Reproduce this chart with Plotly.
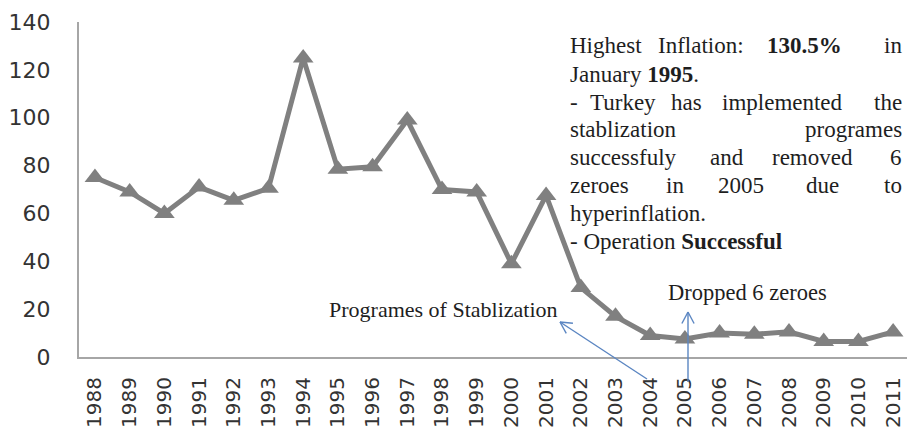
import math
import plotly.graph_objects as go

# ---- data ----
years = [str(y) for y in range(1988, 2012)]
inflation = [75, 69, 60, 71, 65.5, 70.5, 125, 78.5, 79.5, 99, 70, 69,
             39, 67.5, 29, 17, 9, 7.5, 10, 9.5, 10.5, 6.5, 6.5, 10.5]
y_ticks = [0, 20, 40, 60, 80, 100, 120, 140]

# ---- layout geometry (pixels) ----
W, H = 907, 432
L, R, T, B = 79, 0, 22, 75
PW, PH = W - L - R, H - T - B


def px(x):
    return (x - L) / PW


def py(y):
    return (H - B - y) / PH


GRAY = "#808080"
AX = "#a6a6a6"
BLUE = "#5b86c2"
SERIF = "Liberation Serif, Times New Roman, serif"
TXT = "#1e1e1e"
FS = 23

fig = go.Figure()
fig.add_trace(go.Scatter(
    x=years, y=inflation, mode="lines+markers",
    line=dict(color=GRAY, width=5),
    marker=dict(symbol="triangle-up", size=18, color=GRAY),
    cliponaxis=False, showlegend=False, hoverinfo="x+y",
))

annotations = []


def word(text, x, y, anchor="left", size=FS):
    annotations.append(dict(
        text=text, xref="paper", yref="paper", x=px(x), y=py(y),
        xanchor=anchor, yanchor="middle", showarrow=False,
        font=dict(family=SERIF, size=size, color=TXT)))


LX, RX = 568, 904
lines_y = [46, 74, 102, 129, 157, 185, 213, 241]
# line 1 (justified)
word("Highest", LX, lines_y[0])
word("Inflation:", 656, lines_y[0])
word("<b>130.5%</b>", 765, lines_y[0])
word("in", RX, lines_y[0], "right")
# line 2
word("January <b>1995</b>.", LX, lines_y[1])
# line 3 (justified)
word("-", LX, lines_y[2])
word("Turkey", 588, lines_y[2])
word("has", 669, lines_y[2])
word("implemented", 720, lines_y[2])
word("the", RX, lines_y[2], "right")
# line 4
word("stablization", LX, lines_y[3])
word("programes", RX, lines_y[3], "right")
# line 5
word("successfuly", LX, lines_y[4])
word("and", 708, lines_y[4])
word("removed", 770, lines_y[4])
word("6", RX, lines_y[4], "right")
# line 6
word("zeroes", LX, lines_y[5])
word("in", 664, lines_y[5])
word("2005", 716, lines_y[5])
word("due", 804, lines_y[5])
word("to", RX, lines_y[5], "right")
# line 7, 8
word("hyperinflation.", LX, lines_y[6])
word("- Operation <b>Successful</b>", LX, lines_y[7])

# callout labels
word("Programes of Stablization", 443, 309, "center", 22)
word("Dropped 6 zeroes", 747, 292, "center", 22.5)

shapes = []


def seg(x0, y0, x1, y1):
    shapes.append(dict(type="line", xref="paper", yref="paper",
                       x0=px(x0), y0=py(y0), x1=px(x1), y1=py(y1),
                       line=dict(color=BLUE, width=1.4)))


def arrow(x0, y0, x1, y1, head=13, ang=28):
    seg(x0, y0, x1, y1)
    d = math.atan2(y0 - y1, x0 - x1)
    for s in (-1, 1):
        a = d + s * math.radians(ang)
        seg(x1, y1, x1 + head * math.cos(a), y1 + head * math.sin(a))


arrow(647, 379, 560, 322)
arrow(688, 382, 688, 312)

fig.update_layout(
    width=W, height=H,
    margin=dict(l=L, r=R, t=T, b=B),
    paper_bgcolor="white", plot_bgcolor="white",
    annotations=annotations, shapes=shapes,
    xaxis=dict(
        type="category", range=[-0.46, 23.4],
        showline=True, linecolor=AX, linewidth=2,
        showgrid=False, zeroline=False, ticks="",
        tickangle=-90, ticklabelstandoff=10,
        tickfont=dict(family="DejaVu Sans", size=20, color="#333333"),
    ),
    yaxis=dict(
        range=[0, 140], tickvals=y_ticks,
        showline=True, linecolor=AX, linewidth=2,
        showgrid=False, zeroline=False, ticks="",
        ticklabelstandoff=22,
        tickfont=dict(family="DejaVu Sans", size=22, color="#333333"),
    ),
)

fig.write_html("out.html",
               config={"displayModeBar": False},
               post_script="document.body.style.margin='0';"
                           "document.body.style.overflow='hidden';")
